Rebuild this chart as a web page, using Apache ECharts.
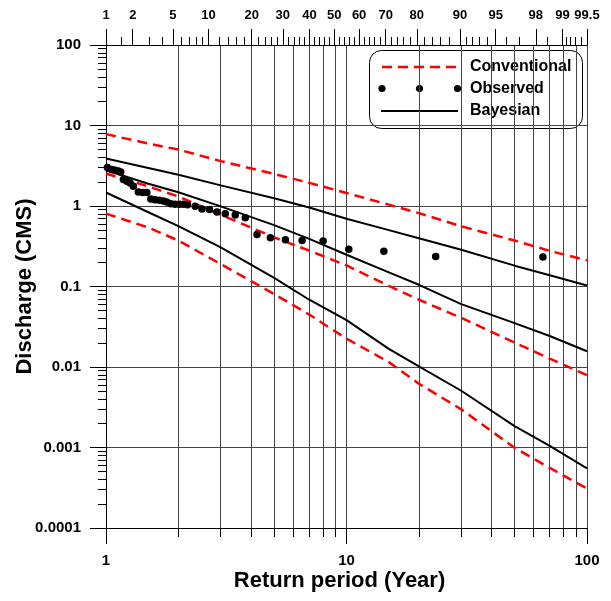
<!DOCTYPE html>
<html><head><meta charset="utf-8">
<script src="https://cdn.jsdelivr.net/npm/echarts@6/dist/echarts.min.js"></script>
<style>html,body{margin:0;padding:0;background:#fff}#chart{width:611px;height:601px}</style>
</head><body><div id="chart"></div>
<script>
// ---------- data ----------
const returnPeriod = [1, 1.5, 2, 3, 5, 7, 10, 15, 20, 30, 50, 70, 100];
const conventionalUpper  = [7.81, 5.97, 5.02, 3.61, 2.50, 1.94, 1.45, 1.04, 0.816, 0.559, 0.372, 0.277, 0.211];
const conventionalMiddle = [2.53, 1.75, 1.31, 0.779, 0.408, 0.279, 0.183, 0.1017, 0.0685, 0.0408, 0.0201, 0.0127, 0.0079];
const conventionalLower  = [0.804, 0.540, 0.372, 0.190, 0.0807, 0.0448, 0.0225, 0.0115, 0.0062, 0.00298, 0.00099, 0.000557, 0.00031];
const bayesianUpper  = [3.89, 2.96, 2.44, 1.805, 1.247, 0.958, 0.693, 0.502, 0.398, 0.286, 0.1815, 0.138, 0.103];
const bayesianMiddle = [2.78, 1.89, 1.48, 0.99, 0.578, 0.391, 0.248, 0.150, 0.105, 0.0605, 0.0351, 0.0243, 0.0157];
const bayesianLower  = [1.47, 0.837, 0.562, 0.306, 0.128, 0.0685, 0.0383, 0.0168, 0.0102, 0.00507, 0.00184, 0.00105, 0.00055];

const observedT = [1.013,1.056,1.090,1.125,1.151,1.181,1.220,1.259,1.299,1.363,1.422,1.478,1.536,1.600,1.668,1.733,1.790,1.860,1.939,2.020,2.099,2.182,2.349,2.505,2.694,2.892,3.132,3.447,3.794,4.246,4.825,5.570,6.538,7.996,10.22,14.30,23.49,65.56];
const observedQ = [3.01,2.84,2.78,2.73,2.65,2.13,2.03,1.93,1.76,1.49,1.47,1.47,1.22,1.20,1.18,1.15,1.12,1.07,1.05,1.05,1.05,1.04,0.99,0.918,0.902,0.842,0.804,0.773,0.717,0.444,0.404,0.381,0.374,0.367,0.291,0.275,0.236,0.232];

// tick labels
const xTickLabels = ['1', '10', '100'];
const xMinorTicks = [2,3,4,5,6,7,8,9,20,30,40,50,60,70,80,90];
const yTickLabels = ['0.0001', '0.001', '0.01', '0.1', '1', '10', '100'];
const yMinorMultipliers = [2,3,4,5,6,7,8,9];
const probMajor = [1,2,5,10,20,30,40,50,60,70,80,90,95,98,99,99.5];
const probMajorLabels = ['1','2','5','10','20','30','40','50','60','70','80','90','95','98','99','99.5'];
const probMinor = [1.5,3,4,6,7,8,9,12,14,16,18,22,24,26,28,32,34,36,38,42,44,46,48,52,54,56,58,62,64,66,68,72,74,76,78,82,84,86,88,91,92,93,94,96,97,98.5,99.1,99.2,99.3,99.4];

// ---------- helpers ----------
function normInv(p){
  const a=[-3.969683028665376e+01,2.209460984245205e+02,-2.759285104469687e+02,1.383577518672690e+02,-3.066479806614716e+01,2.506628277459239e+00];
  const b=[-5.447609879822406e+01,1.615858368580409e+02,-1.556989798598866e+02,6.680131188771972e+01,-1.328068155288572e+01];
  const c=[-7.784894002430293e-03,-3.223964580411365e-01,-2.400758277161838e+00,-2.549732539343734e+00,4.374664141464968e+00,2.938163982698783e+00];
  const d=[7.784695709041462e-03,3.224671290700398e-01,2.445134137142996e+00,3.754408661907416e+00];
  const pl=0.02425, ph=1-pl; let q,r;
  if(p<pl){q=Math.sqrt(-2*Math.log(p));return (((((c[0]*q+c[1])*q+c[2])*q+c[3])*q+c[4])*q+c[5])/((((d[0]*q+d[1])*q+d[2])*q+d[3])*q+1);}
  if(p<=ph){q=p-0.5;r=q*q;return (((((a[0]*r+a[1])*r+a[2])*r+a[3])*r+a[4])*r+a[5])*q/(((((b[0]*r+b[1])*r+b[2])*r+b[3])*r+b[4])*r+1);}
  q=Math.sqrt(-2*Math.log(1-p));return -(((((c[0]*q+c[1])*q+c[2])*q+c[3])*q+c[4])*q+c[5])/((((d[0]*q+d[1])*q+d[2])*q+d[3])*q+1);
}
const zMajor = probMajor.map(p => normInv(p/100));
const zMinor = probMinor.map(p => normInv(p/100));
const zMin = zMajor[0] - 1e-9, zMax = zMajor[zMajor.length-1] + 1e-9;
const xMinorLog = xMinorTicks.map(v => Math.log10(v));
const yMinorLog = [];
for (let d = -4; d < 2; d++) yMinorMultipliers.forEach(m => yMinorLog.push(d + Math.log10(m)));

const FONT = '"Liberation Sans", Arial, Helvetica, sans-serif';
const GRID_COLOR = '#444444';
const pair = arr => returnPeriod.map((t, i) => [t, arr[i]]);

const chart = echarts.init(document.getElementById('chart'), null, {renderer: 'canvas'});
const conventionalStyle = {color: '#ff0000', width: 2.5, type: [10, 6]};
const bayesianStyle = {color: '#000000', width: 2};

const option = {
  animation: false,
  backgroundColor: '#ffffff',
  grid: {left: 106, right: 24, top: 45, bottom: 73, containLabel: false, outerBoundsMode: 'none'},
  xAxis: [
    { // main log axis (data)
      type: 'log', logBase: 10, min: 1, max: 100, position: 'bottom',
      axisLine: {show: true, onZero: false, lineStyle: {color: '#000', width: 1}},
      axisTick: {show: true, length: 16, lineStyle: {color: '#000'}},
      axisLabel: {margin: 25, fontFamily: FONT, fontWeight: 'bold', fontSize: 15, color: '#000',
        formatter: v => xTickLabels[Math.round(Math.log10(v))]},
      splitLine: {show: true, lineStyle: {color: GRID_COLOR, width: 1}},
      minorTick: {show: false}, minorSplitLine: {show: false},
      name: 'Return period (Year)', nameLocation: 'middle', nameGap: 42, nameMoveOverlap: false,
      nameTextStyle: {fontFamily: FONT, fontWeight: 'bold', fontSize: 22, color: '#000', padding: [0, 14, 0, 0]}
    },
    { // minor ticks / grid on bottom
      type: 'value', min: 0, max: 2, position: 'bottom',
      axisLine: {show: false, onZero: false},
      axisTick: {show: true, length: 9, customValues: xMinorLog, lineStyle: {color: '#000'}},
      axisLabel: {show: false},
      splitLine: {show: true, lineStyle: {color: GRID_COLOR, width: 1}}
    },
    { // top probability axis, major
      type: 'value', min: zMin, max: zMax, position: 'top',
      axisLine: {show: true, onZero: false, lineStyle: {color: '#000', width: 1}},
      axisTick: {show: true, length: 16, customValues: zMajor, lineStyle: {color: '#000'}},
      axisLabel: {show: true, customValues: zMajor, margin: 23, fontFamily: FONT, fontWeight: 'bold', fontSize: 13, color: '#000',
        formatter: v => {
          let best = 0;
          zMajor.forEach((z, i) => { if (Math.abs(z - v) < Math.abs(zMajor[best] - v)) best = i; });
          return probMajorLabels[best];
        }},
      splitLine: {show: false}
    },
    { // top probability axis, minor
      type: 'value', min: zMin, max: zMax, position: 'top',
      axisLine: {show: false, onZero: false},
      axisTick: {show: true, length: 8, customValues: zMinor, lineStyle: {color: '#000'}},
      axisLabel: {show: false},
      splitLine: {show: false}
    }
  ],
  yAxis: [
    {
      type: 'log', logBase: 10, min: 0.0001, max: 100, position: 'left',
      axisLine: {show: true, onZero: false, lineStyle: {color: '#000', width: 1}},
      axisTick: {show: true, length: 16, lineStyle: {color: '#000'}},
      axisLabel: {margin: 25, fontFamily: FONT, fontWeight: 'bold', fontSize: 15, color: '#000',
        formatter: v => yTickLabels[Math.round(Math.log10(v)) + 4]},
      splitLine: {show: true, lineStyle: {color: GRID_COLOR, width: 1}},
      minorTick: {show: false}, minorSplitLine: {show: false},
      name: 'Discharge (CMS)', nameLocation: 'middle', nameGap: 70, nameRotate: 90, nameMoveOverlap: false,
      nameTextStyle: {fontFamily: FONT, fontWeight: 'bold', fontSize: 22, color: '#000'}
    },
    {
      type: 'value', min: -4, max: 2, position: 'left',
      axisLine: {show: false, onZero: false},
      axisTick: {show: true, length: 8, customValues: yMinorLog, lineStyle: {color: '#000'}},
      axisLabel: {show: false},
      splitLine: {show: false}
    }
  ],
  series: [
    {name: 'Conventional', type: 'line', data: pair(conventionalUpper), symbol: 'none', lineStyle: conventionalStyle, z: 3},
    {name: 'Conventional', type: 'line', data: pair(conventionalMiddle), symbol: 'none', lineStyle: conventionalStyle, z: 3},
    {name: 'Conventional', type: 'line', data: pair(conventionalLower), symbol: 'none', lineStyle: conventionalStyle, z: 3},
    {name: 'Bayesian', type: 'line', data: pair(bayesianUpper), symbol: 'none', lineStyle: bayesianStyle, z: 4},
    {name: 'Bayesian', type: 'line', data: pair(bayesianMiddle), symbol: 'none', lineStyle: bayesianStyle, z: 4},
    {name: 'Bayesian', type: 'line', data: pair(bayesianLower), symbol: 'none', lineStyle: bayesianStyle, z: 4},
    {name: 'Observed', type: 'scatter', data: observedT.map((t, i) => [t, observedQ[i]]),
      symbol: 'circle', symbolSize: 7.5, itemStyle: {color: '#000', opacity: 1}, z: 5}
  ],
  graphic: [
    {type: 'group', left: 369, top: 50, z: 100, children: [
      {type: 'rect', shape: {x: 0.5, y: 0.5, width: 213, height: 78, r: 12}, style: {fill: '#fff', stroke: '#000', lineWidth: 1}},
      {type: 'line', shape: {x1: 13, y1: 17, x2: 87, y2: 17}, style: {stroke: '#ff0000', lineWidth: 2.5, lineDash: [10, 6]}},
      {type: 'circle', shape: {cx: 13, cy: 38.5, r: 3.6}, style: {fill: '#000'}},
      {type: 'circle', shape: {cx: 50.5, cy: 38.5, r: 3.6}, style: {fill: '#000'}},
      {type: 'circle', shape: {cx: 88.5, cy: 38.5, r: 3.6}, style: {fill: '#000'}},
      {type: 'line', shape: {x1: 12, y1: 61, x2: 89, y2: 61}, style: {stroke: '#000', lineWidth: 2}},
      {type: 'text', x: 101, y: 17, style: {text: 'Conventional', font: 'bold 16px ' + FONT, fill: '#000', verticalAlign: 'middle'}},
      {type: 'text', x: 101, y: 38.5, style: {text: 'Observed', font: 'bold 16px ' + FONT, fill: '#000', verticalAlign: 'middle'}},
      {type: 'text', x: 101, y: 61, style: {text: 'Bayesian', font: 'bold 16px ' + FONT, fill: '#000', verticalAlign: 'middle'}}
    ]}
  ]
};
chart.setOption(option);
</script></body></html>
